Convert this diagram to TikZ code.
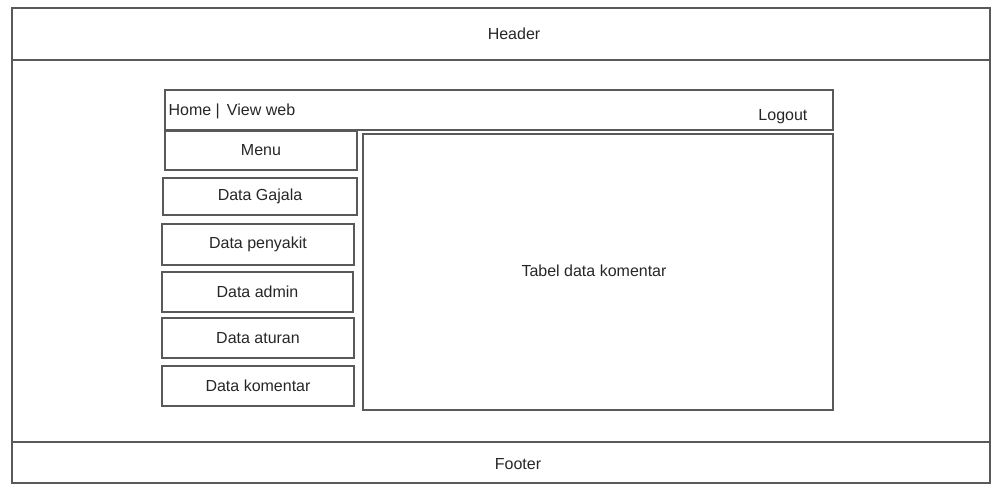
\documentclass[tikz,border=0pt]{standalone}
\usepackage{fontspec}
\setmainfont{Liberation Sans}
\usepackage{tikz}

\begin{document}
\begin{tikzpicture}[x = 1pt, y = -1pt, line width = 1.2pt,
                    panel/.style = {rectangle, draw = black!65, inner sep = 0pt, text = black!85,
                                    font = \fontsize{16}{19}\selectfont},
                    label/.style = {inner sep = 0pt, text = black!85, font = \fontsize{16}{19}\selectfont}]
  \useasboundingbox (0,0) rectangle (992,486);
  % page frame
  \node [panel, minimum width = 978pt, minimum height = 52pt] (header) at (501,34) {};
  \node [label] at (514,34) {Header};
  \node [panel, minimum width = 978pt, minimum height = 382pt] (body) at (501,251) {};
  \node [panel, minimum width = 978pt, minimum height = 41pt] (footer) at (501,462.5) {};
  \node [label] at (518,464) {Footer};

  % navigation bar
  \node [panel, minimum width = 668pt, minimum height = 40pt] (navbar) at (499,110) {};
  \node [label, anchor = west] (home) at (168,111) {Home |\, View web};
  \node [label, anchor = east] (logout) at (808,117) {Logout};

  % menu
  \node [panel, minimum width = 192pt, minimum height = 39pt] (menu) at (261,150.5) {Menu};
  \node [panel, minimum width = 194pt, minimum height = 37pt] (gejala) at (260,196.5) {Data Gajala};
  \node [panel, minimum width = 192pt, minimum height = 41pt] (penyakit) at (258,244.5) {Data penyakit};
  \node [panel, minimum width = 191pt, minimum height = 40pt] (admin) at (257.5,292) {Data admin};
  \node [panel, minimum width = 192pt, minimum height = 40pt] (aturan) at (258,338) {Data aturan};
  \node [panel, minimum width = 192pt, minimum height = 40pt] (komentar) at (258,386) {Data komentar};

  % content
  \node [panel, minimum width = 470pt, minimum height = 276pt] (content) at (598,272) {};
  \node [label] (tabel) at (594,271) {Tabel data komentar};
\end{tikzpicture}
\end{document}
